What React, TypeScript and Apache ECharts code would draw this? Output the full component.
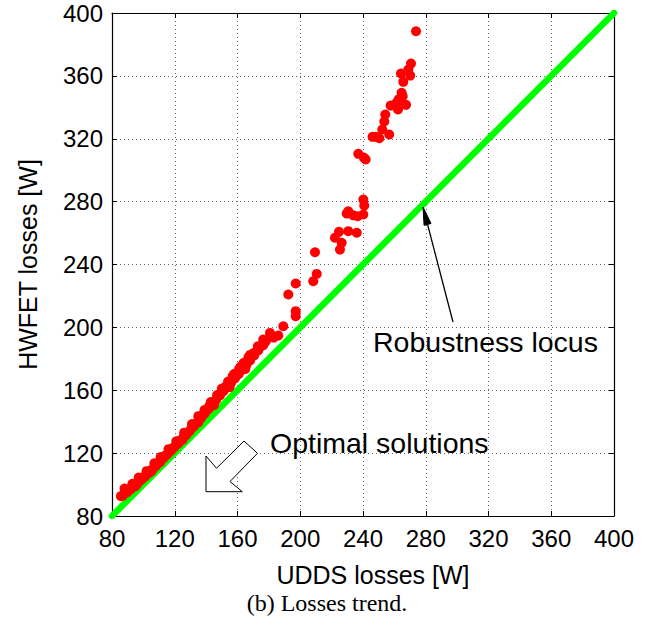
import React, { useEffect, useRef } from "react";
import * as echarts from "echarts";

const axisTicks = [80, 120, 160, 200, 240, 280, 320, 360, 400];
const axisMin = 80;
const axisMax = 400;
const axisStep = 40;

// Robustness locus (UDDS losses = HWFET losses)
const locusX = [80, 400];
const locusY = [80, 400];

// Optimal solutions: UDDS losses [W]
const uddsLosses = [
  85.7, 87.0, 88.2, 89.5, 90.3, 91.8, 92.6, 94.0, 95.1, 96.4, 97.3, 98.7, 99.8, 101.0, 102.2, 103.5,
  104.4, 105.8, 106.9, 108.1, 109.3, 110.6, 111.5, 112.9, 114.0, 115.2, 116.4, 117.6, 118.7, 120.0,
  121.1, 122.4, 123.5, 124.8, 125.9, 127.2, 128.3, 129.6, 130.7, 132.0, 133.1, 134.4, 135.5, 136.8,
  137.9, 139.2, 140.3, 141.6, 142.7, 144.0, 145.1, 146.4, 147.5, 148.8, 149.9, 151.2, 152.3, 153.6,
  154.7, 156.0, 157.1, 158.4, 159.5, 160.8, 161.9, 163.2, 164.3, 165.6, 166.7, 168.0, 169.3, 170.6,
  171.9, 173.3, 174.8, 176.4, 176.4, 178.0, 180.7, 183.0, 186.0, 189.2,
  88.0, 93.0, 97.0, 102.0, 107.0, 111.0, 116.0, 121.0, 126.0, 131.0, 135.0, 139.0, 143.0, 147.0,
  150.0, 154.0, 157.0, 161.0, 164.0, 167.0, 170.0, 173.0,
  95.0, 105.0, 125.0, 135.0, 145.0, 155.0, 165.0,
  142.0, 152.0, 158.0, 162.0, 168.0,
  192.4, 197.1, 197.1, 197.1, 208.3, 210.5, 209.4, 225.3, 226.4, 222.1, 224.7, 230.6, 236.0, 229.6,
  230.6, 233.8, 236.6, 240.2, 240.8, 240.2, 241.7, 240.5, 237.0, 246.1, 248.3, 250.4, 256.7, 252.3,
  253.6, 254.2, 257.6, 262.3, 261.4, 262.7, 265.3, 264.6, 267.4, 265.7, 264.2, 270.1, 268.9, 270.6,
  273.8,
];

// Optimal solutions: HWFET losses [W]
const hwfetLosses = [
  92.6, 93.0, 94.8, 95.0, 96.6, 96.9, 98.4, 98.8, 100.4, 100.9, 102.5, 103.0, 104.6, 105.0, 106.8, 107.4,
  108.9, 109.6, 111.2, 111.9, 113.6, 114.2, 115.8, 116.9, 118.5, 119.1, 120.8, 121.5, 123.2, 124.0,
  125.6, 126.3, 128.1, 128.9, 130.6, 131.4, 133.2, 134.1, 136.0, 136.8, 138.6, 139.6, 141.5, 142.4,
  144.3, 145.3, 147.2, 148.1, 150.2, 151.0, 153.0, 153.9, 156.0, 156.7, 158.7, 159.6, 161.5, 162.2,
  164.3, 164.9, 167.0, 167.6, 169.5, 170.4, 172.4, 173.1, 175.3, 176.0, 178.4, 179.0, 181.5, 182.1,
  184.6, 185.4, 187.9, 188.6, 192.3, 191.0, 196.5, 193.5, 194.8, 200.7,
  97.5, 100.5, 104.5, 108.5, 113.5, 117.5, 122.5, 127.5, 133.0, 138.5, 143.5, 147.5, 152.5, 157.0,
  161.0, 165.5, 169.0, 173.5, 177.5, 181.0, 183.5, 188.0,
  99.0, 108.3, 128.5, 139.5, 150.5, 162.0, 173.5,
  150.0, 162.0, 170.5, 175.0, 182.5,
  220.9, 227.9, 210.3, 207.1, 229.4, 234.0, 247.8, 249.5, 253.8, 257.0, 260.8, 261.2, 260.2, 272.4,
  273.9, 271.3, 270.7, 271.8, 277.5, 281.3, 306.8, 308.0, 310.4, 321.2, 321.2, 320.3, 322.7, 325.9,
  331.0, 335.4, 341.1, 338.6, 342.9, 345.0, 347.0, 349.2, 341.6, 356.2, 361.5, 360.2, 364.0, 367.8,
  388.4,
];

const FONT = "'Liberation Sans', Arial, Helvetica, sans-serif";

export default function App() {
  const ref = useRef<HTMLDivElement>(null);

  useEffect(() => {
    if (!ref.current) return;
    const chart = echarts.init(ref.current, undefined, { renderer: "svg" });

    const baseAxis = {
      type: "value" as const,
      min: axisMin,
      max: axisMax,
      interval: axisStep,
      axisLine: { show: true, onZero: false, lineStyle: { color: "#000", width: 1.2 } },
      axisTick: { show: true, inside: true, length: 5, lineStyle: { color: "#000", width: 1 } },
    };

    const labelStyle = {
      show: true,
      color: "#000",
      fontSize: 24,
      fontFamily: FONT,
      formatter: (v: number) => (axisTicks.includes(v) ? String(v) : ""),
    };

    const gridLine = {
      show: true,
      lineStyle: { color: "#666", width: 1, type: [1, 3] as number[] },
    };

    const scatterData = uddsLosses.map((x, i) => [x, hwfetLosses[i]]);
    const locusData = locusX.map((x, i) => [x, locusY[i]]);

    // arrow geometry (annotation)
    const tip = [423, 207];
    const tail = [453, 322];
    const dx = tail[0] - tip[0];
    const dy = tail[1] - tip[1];
    const len = Math.sqrt(dx * dx + dy * dy);
    const ux = dx / len;
    const uy = dy / len;
    const headLen = 18;
    const headHalf = 3.6;
    const bx = tip[0] + ux * headLen;
    const by = tip[1] + uy * headLen;

    chart.setOption({
      animation: false,
      backgroundColor: "#fff",
      grid: { left: 112, right: 48, top: 13, bottom: 110, containLabel: false },
      xAxis: [
        {
          ...baseAxis,
          position: "bottom",
          name: "UDDS losses [W]",
          nameLocation: "middle",
          nameGap: 46,
          nameTextStyle: { color: "#000", fontSize: 25, fontFamily: FONT, padding: [0, 0, 0, 20] },
          axisLabel: { ...labelStyle, margin: 10 },
          splitLine: gridLine,
        },
        {
          ...baseAxis,
          position: "top",
          axisLabel: { show: false },
          splitLine: { show: false },
        },
      ],
      yAxis: [
        {
          ...baseAxis,
          position: "left",
          name: "HWFET losses [W]",
          nameLocation: "middle",
          nameGap: 72,
          nameTextStyle: { color: "#000", fontSize: 25, fontFamily: FONT },
          axisLabel: { ...labelStyle, margin: 9 },
          splitLine: gridLine,
        },
        {
          ...baseAxis,
          position: "right",
          axisLabel: { show: false },
          splitLine: { show: false },
        },
      ],
      series: [
        {
          type: "line",
          xAxisIndex: 0,
          yAxisIndex: 0,
          data: locusData,
          symbol: "none",
          lineStyle: { color: "#00ff00", width: 6.5, cap: "round" },
          z: 2,
        },
        {
          type: "scatter",
          xAxisIndex: 0,
          yAxisIndex: 0,
          data: scatterData,
          symbol: "circle",
          symbolSize: 10,
          itemStyle: { color: "#ff0000", opacity: 1 },
          z: 3,
        },
      ],
      graphic: [
        {
          type: "line",
          shape: { x1: tail[0], y1: tail[1], x2: bx, y2: by },
          style: { stroke: "#000", lineWidth: 1.3 },
          z: 10,
        },
        {
          type: "polygon",
          shape: {
            points: [
              [tip[0], tip[1]],
              [bx - uy * headHalf, by + ux * headHalf],
              [bx + uy * headHalf, by - ux * headHalf],
            ],
          },
          style: { fill: "#000", stroke: "#000", lineWidth: 1 },
          z: 10,
        },
        {
          type: "text",
          x: 373,
          y: 342,
          style: {
            text: "Robustness locus",
            fill: "#000",
            fontSize: 28.5,
            fontFamily: FONT,
            verticalAlign: "middle",
            align: "left",
          },
          z: 10,
        },
        {
          type: "text",
          x: 270,
          y: 443,
          style: {
            text: "Optimal solutions",
            fill: "#000",
            fontSize: 28.5,
            fontFamily: FONT,
            verticalAlign: "middle",
            align: "left",
          },
          z: 10,
        },
        {
          type: "polygon",
          shape: {
            points: [
              [206, 456],
              [216.5, 468.3],
              [244, 441],
              [257.5, 453.3],
              [230, 481.5],
              [242.3, 491.7],
              [206, 491.7],
            ],
          },
          style: { fill: "#fff", stroke: "#000", lineWidth: 1 },
          z: 10,
        },
        {
          type: "text",
          x: 327,
          y: 603,
          style: {
            text: "(b) Losses trend.",
            fill: "#000",
            fontSize: 24,
            fontFamily: "'Liberation Serif', 'Times New Roman', serif",
            verticalAlign: "middle",
            align: "center",
          },
          z: 10,
        },
      ],
    });

    return () => chart.dispose();
  }, []);

  return (
    <div
      ref={ref}
      style={{ position: "fixed", left: 0, top: 0, width: 662, height: 626, background: "#fff" }}
    />
  );
}
